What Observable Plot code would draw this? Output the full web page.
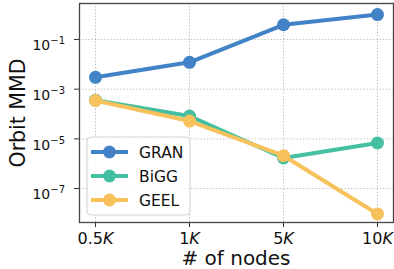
<!DOCTYPE html>
<html>
<head>
<meta charset="utf-8">
<script src="https://cdn.jsdelivr.net/npm/d3@7"></script>
<script src="https://cdn.jsdelivr.net/npm/@observablehq/plot@0.6"></script>
<style>
  html, body { margin: 0; padding: 0; background: white; }
  #chart { width: 394px; height: 269px; }
</style>
</head>
<body>
<div id="chart"></div>
<script>
const xLabels = ["0.5K", "1K", "5K", "10K"];
const series = ["GRAN", "BiGG", "GEEL"];
const granValues = [3.0e-3, 1.2e-2, 0.39, 1.0];
const biggValues = [3.6e-4, 8.3e-5, 1.7e-6, 6.8e-6];
const geelValues = [3.5e-4, 5.2e-5, 2.1e-6, 9.5e-9];
const colors = ["#4282c6", "#44bf9f", "#f7c15b"];
const yTicks = [1e-1, 1e-3, 1e-5, 1e-7];
const yLabel = "Orbit MMD";
const xLabel = "# of nodes";

const valuesBySeries = [granValues, biggValues, geelValues];
const data = series.flatMap((s, i) =>
  valuesBySeries[i].map((v, j) => ({series: s, x: xLabels[j], y: v}))
);

const seriesMarks = series.flatMap(s => {
  const rows = data.filter(d => d.series === s);
  return [
    Plot.line(rows, {x: "x", y: "y", stroke: "series", strokeWidth: 4}),
    Plot.dot(rows, {x: "x", y: "y", fill: "series", r: 6.5})
  ];
});

const plot = Plot.plot({
  width: 394,
  height: 269,
  marginLeft: 79,
  marginRight: 1,
  marginTop: 3,
  marginBottom: 47,
  style: {fontFamily: "DejaVu Sans", fontSize: "14px", background: "white", color: "#000"},
  x: {type: "point", domain: xLabels, padding: 0.153, label: null},
  y: {type: "log", domain: [4.3e-9, 2.8], label: null},
  color: {domain: series, range: colors},
  marks: [
    Plot.gridY(yTicks, {stroke: "#b8b8b8", strokeOpacity: 1, strokeDasharray: "1.2,2"}),
    Plot.gridX(xLabels, {stroke: "#b8b8b8", strokeOpacity: 1, strokeDasharray: "1.2,2"}),
    Plot.axisY(yTicks, {
      tickSize: 5, tickPadding: 9.5, stroke: "#333", fill: "#111",
      fontSize: 14, tickFormat: d => "10^" + Math.round(Math.log10(d))
    }),
    Plot.axisX(xLabels, {tickSize: 5, tickPadding: 5, stroke: "#333", fill: "#111", fontSize: 16}),
    ...seriesMarks,
    Plot.frame({stroke: "#444", strokeWidth: 1.3})
  ]
});

document.getElementById("chart").appendChild(plot);
const svg = d3.select(plot);

// y tick labels as 10 with superscript exponent
svg.selectAll('g[aria-label="y-axis tick label"] text').each(function() {
  const t = d3.select(this);
  const txt = t.text();
  const exp = txt.split("^")[1].replace("-", "\u2212");
  t.text("");
  t.attr("dy", "0.45em");
  t.append("tspan").text("10");
  t.append("tspan").attr("font-size", 10).attr("dy", -6).text(exp);
});

// x tick labels with italic K
svg.selectAll('g[aria-label="x-axis tick label"] text').each(function() {
  const t = d3.select(this);
  const txt = t.text();
  t.text("");
  t.append("tspan").text(txt.slice(0, -1));
  t.append("tspan").attr("font-style", "italic").text(txt.slice(-1));
});

// axis titles
svg.append("text")
  .attr("transform", "translate(25,113) rotate(-90)")
  .attr("text-anchor", "middle")
  .attr("font-family", "DejaVu Sans")
  .attr("font-size", 20.5)
  .attr("fill", "#111")
  .text(yLabel);
svg.append("text")
  .attr("x", 236)
  .attr("y", 265)
  .attr("text-anchor", "middle")
  .attr("font-family", "DejaVu Sans")
  .attr("font-size", 20)
  .attr("fill", "#111")
  .text(xLabel);

// legend
const lg = svg.append("g").attr("aria-label", "legend");
lg.append("rect")
  .attr("x", 87).attr("y", 137).attr("width", 103).attr("height", 78)
  .attr("rx", 4).attr("fill", "white").attr("fill-opacity", 0.85)
  .attr("stroke", "#d0d0d0");
series.forEach((s, i) => {
  const cy = 152 + i * 24;
  lg.append("line").attr("x1", 91).attr("x2", 128).attr("y1", cy).attr("y2", cy)
    .attr("stroke", colors[i]).attr("stroke-width", 4);
  lg.append("circle").attr("cx", 109.5).attr("cy", cy).attr("r", 6.5).attr("fill", colors[i]);
  lg.append("text").attr("x", 139).attr("y", cy + 5.5)
    .attr("text-anchor", "start")
    .attr("font-family", "DejaVu Sans").attr("font-size", 15.5).attr("fill", "#111")
    .text(s);
});
</script>
</body>
</html>
